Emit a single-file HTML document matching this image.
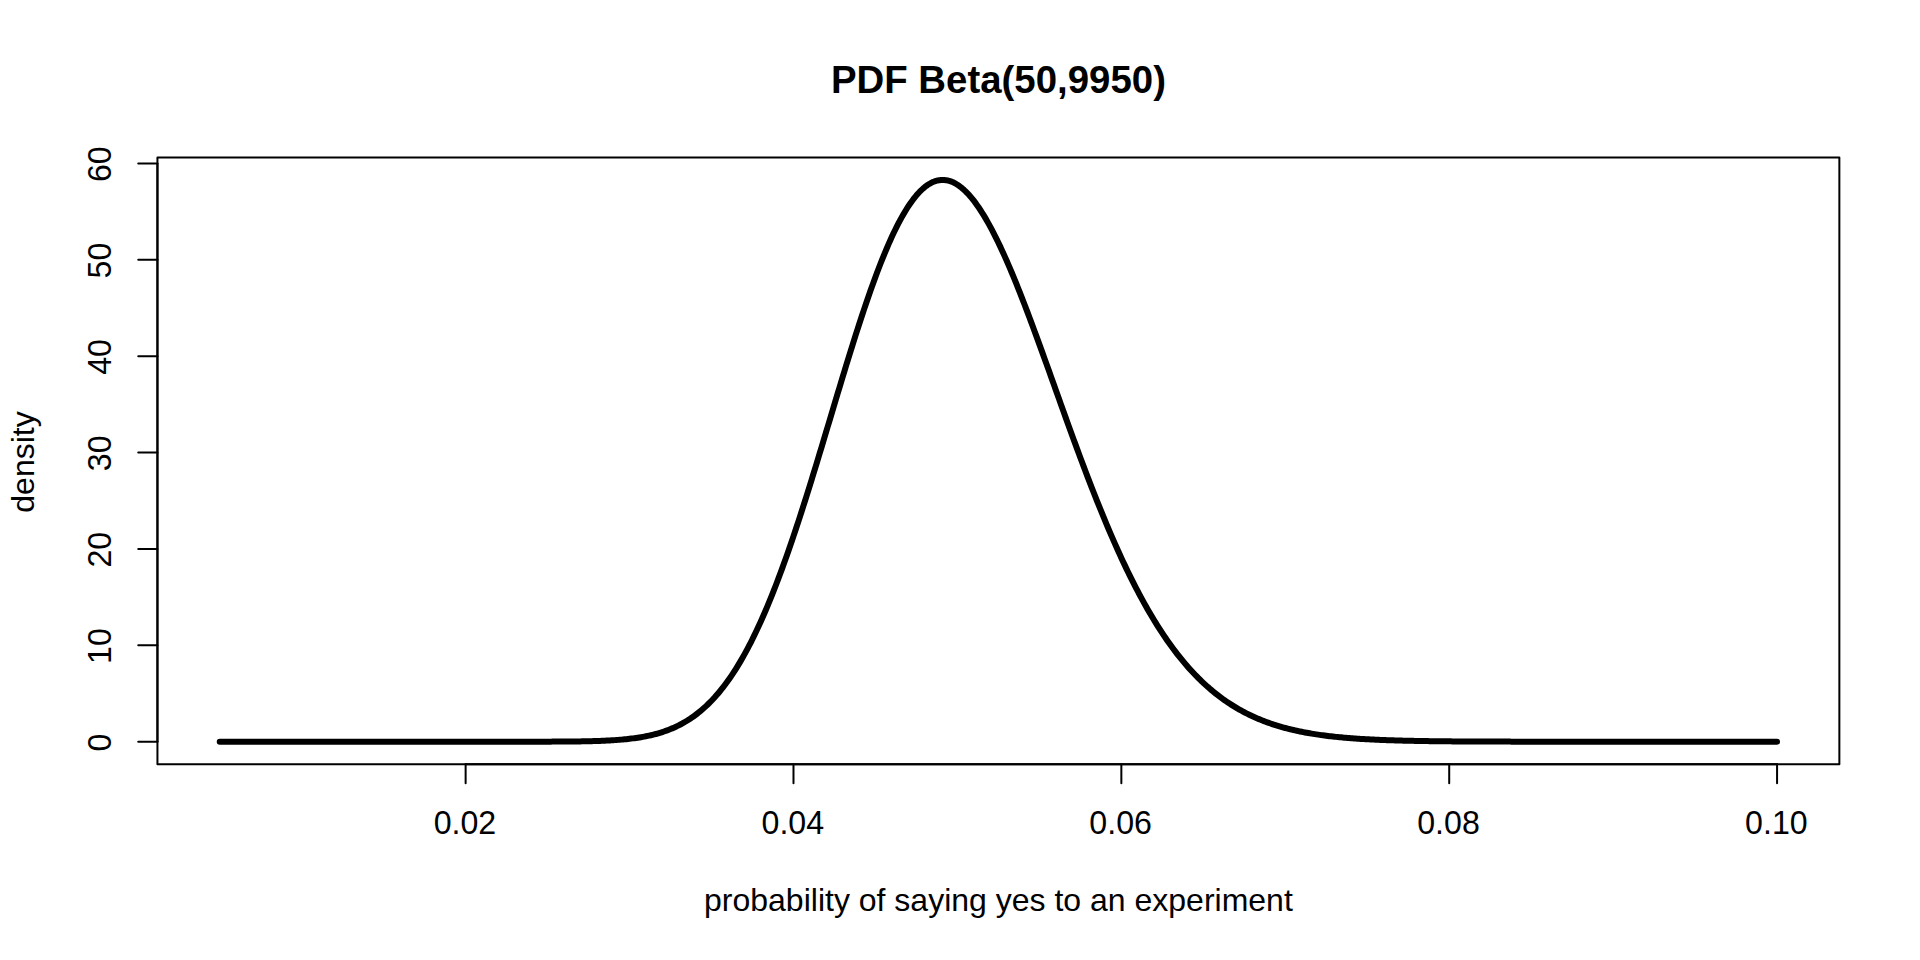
<!DOCTYPE html>
<html><head><meta charset="utf-8"><title>PDF Beta(50,9950)</title>
<style>
html,body{margin:0;padding:0;background:#fff;}
body{width:1920px;height:960px;overflow:hidden;}
svg{display:block;}
text{font-family:"Liberation Sans",Arial,Helvetica,sans-serif;fill:#000;}
</style></head><body>
<svg width="1920" height="960" viewBox="0 0 1920 960">
<rect x="0" y="0" width="1920" height="960" fill="#fff"/>
<polyline points="219.73,741.69 221.37,741.69 223.01,741.69 224.65,741.69 226.29,741.69 227.93,741.69 229.57,741.69 231.21,741.69 232.85,741.69 234.49,741.69 236.13,741.69 237.77,741.69 239.40,741.69 241.04,741.69 242.68,741.69 244.32,741.69 245.96,741.69 247.60,741.69 249.24,741.69 250.88,741.69 252.52,741.69 254.16,741.69 255.80,741.69 257.44,741.69 259.08,741.69 260.72,741.69 262.36,741.69 263.99,741.69 265.63,741.69 267.27,741.69 268.91,741.69 270.55,741.69 272.19,741.69 273.83,741.69 275.47,741.69 277.11,741.69 278.75,741.69 280.39,741.69 282.03,741.69 283.67,741.69 285.31,741.69 286.94,741.69 288.58,741.69 290.22,741.69 291.86,741.69 293.50,741.69 295.14,741.69 296.78,741.69 298.42,741.69 300.06,741.69 301.70,741.69 303.34,741.69 304.98,741.69 306.62,741.69 308.26,741.69 309.89,741.69 311.53,741.69 313.17,741.69 314.81,741.69 316.45,741.69 318.09,741.69 319.73,741.69 321.37,741.69 323.01,741.69 324.65,741.69 326.29,741.69 327.93,741.69 329.57,741.69 331.21,741.69 332.84,741.69 334.48,741.69 336.12,741.69 337.76,741.69 339.40,741.69 341.04,741.69 342.68,741.69 344.32,741.69 345.96,741.69 347.60,741.69 349.24,741.69 350.88,741.69 352.52,741.69 354.16,741.69 355.80,741.69 357.43,741.69 359.07,741.69 360.71,741.69 362.35,741.69 363.99,741.69 365.63,741.69 367.27,741.69 368.91,741.69 370.55,741.69 372.19,741.69 373.83,741.69 375.47,741.69 377.11,741.69 378.75,741.69 380.38,741.69 382.02,741.69 383.66,741.69 385.30,741.69 386.94,741.69 388.58,741.69 390.22,741.69 391.86,741.69 393.50,741.69 395.14,741.69 396.78,741.69 398.42,741.69 400.06,741.69 401.70,741.69 403.33,741.69 404.97,741.69 406.61,741.69 408.25,741.69 409.89,741.69 411.53,741.69 413.17,741.69 414.81,741.69 416.45,741.69 418.09,741.69 419.73,741.69 421.37,741.69 423.01,741.69 424.65,741.69 426.28,741.69 427.92,741.69 429.56,741.69 431.20,741.69 432.84,741.69 434.48,741.69 436.12,741.69 437.76,741.69 439.40,741.69 441.04,741.69 442.68,741.69 444.32,741.69 445.96,741.69 447.60,741.69 449.24,741.69 450.87,741.69 452.51,741.69 454.15,741.69 455.79,741.69 457.43,741.69 459.07,741.69 460.71,741.69 462.35,741.69 463.99,741.69 465.63,741.69 467.27,741.69 468.91,741.69 470.55,741.69 472.19,741.69 473.82,741.69 475.46,741.69 477.10,741.69 478.74,741.69 480.38,741.69 482.02,741.69 483.66,741.69 485.30,741.69 486.94,741.69 488.58,741.69 490.22,741.69 491.86,741.69 493.50,741.69 495.14,741.69 496.77,741.69 498.41,741.69 500.05,741.69 501.69,741.69 503.33,741.69 504.97,741.69 506.61,741.69 508.25,741.69 509.89,741.68 511.53,741.68 513.17,741.68 514.81,741.68 516.45,741.68 518.09,741.68 519.72,741.68 521.36,741.68 523.00,741.68 524.64,741.68 526.28,741.68 527.92,741.67 529.56,741.67 531.20,741.67 532.84,741.67 534.48,741.67 536.12,741.66 537.76,741.66 539.40,741.66 541.04,741.66 542.68,741.65 544.31,741.65 545.95,741.64 547.59,741.64 549.23,741.63 550.87,741.63 552.51,741.62 554.15,741.61 555.79,741.61 557.43,741.60 559.07,741.59 560.71,741.58 562.35,741.57 563.99,741.56 565.63,741.55 567.26,741.53 568.90,741.52 570.54,741.50 572.18,741.49 573.82,741.47 575.46,741.45 577.10,741.43 578.74,741.40 580.38,741.38 582.02,741.35 583.66,741.32 585.30,741.29 586.94,741.26 588.58,741.22 590.21,741.18 591.85,741.14 593.49,741.09 595.13,741.04 596.77,740.99 598.41,740.94 600.05,740.88 601.69,740.81 603.33,740.75 604.97,740.67 606.61,740.59 608.25,740.51 609.89,740.42 611.53,740.33 613.16,740.23 614.80,740.12 616.44,740.00 618.08,739.88 619.72,739.75 621.36,739.62 623.00,739.47 624.64,739.31 626.28,739.15 627.92,738.98 629.56,738.79 631.20,738.60 632.84,738.39 634.48,738.17 636.12,737.94 637.75,737.70 639.39,737.44 641.03,737.17 642.67,736.88 644.31,736.58 645.95,736.26 647.59,735.93 649.23,735.57 650.87,735.20 652.51,734.81 654.15,734.41 655.79,733.98 657.43,733.52 659.07,733.05 660.70,732.56 662.34,732.04 663.98,731.49 665.62,730.92 667.26,730.33 668.90,729.70 670.54,729.05 672.18,728.37 673.82,727.66 675.46,726.92 677.10,726.15 678.74,725.34 680.38,724.50 682.02,723.62 683.65,722.71 685.29,721.76 686.93,720.78 688.57,719.75 690.21,718.69 691.85,717.58 693.49,716.43 695.13,715.24 696.77,714.01 698.41,712.73 700.05,711.40 701.69,710.03 703.33,708.60 704.97,707.13 706.60,705.61 708.24,704.03 709.88,702.41 711.52,700.73 713.16,699.00 714.80,697.21 716.44,695.36 718.08,693.46 719.72,691.50 721.36,689.48 723.00,687.40 724.64,685.26 726.28,683.06 727.92,680.80 729.56,678.48 731.19,676.09 732.83,673.64 734.47,671.12 736.11,668.54 737.75,665.89 739.39,663.17 741.03,660.39 742.67,657.54 744.31,654.63 745.95,651.64 747.59,648.59 749.23,645.47 750.87,642.28 752.51,639.02 754.14,635.69 755.78,632.30 757.42,628.83 759.06,625.30 760.70,621.70 762.34,618.03 763.98,614.29 765.62,610.49 767.26,606.62 768.90,602.68 770.54,598.67 772.18,594.60 773.82,590.47 775.46,586.27 777.09,582.00 778.73,577.68 780.37,573.29 782.01,568.85 783.65,564.34 785.29,559.78 786.93,555.16 788.57,550.48 790.21,545.75 791.85,540.96 793.49,536.13 795.13,531.24 796.77,526.31 798.41,521.33 800.04,516.30 801.68,511.24 803.32,506.13 804.96,500.98 806.60,495.79 808.24,490.57 809.88,485.32 811.52,480.03 813.16,474.72 814.80,469.38 816.44,464.02 818.08,458.63 819.72,453.22 821.36,447.80 823.00,442.37 824.63,436.92 826.27,431.46 827.91,425.99 829.55,420.52 831.19,415.05 832.83,409.58 834.47,404.12 836.11,398.66 837.75,393.21 839.39,387.77 841.03,382.35 842.67,376.95 844.31,371.56 845.95,366.20 847.58,360.87 849.22,355.57 850.86,350.29 852.50,345.06 854.14,339.86 855.78,334.70 857.42,329.58 859.06,324.51 860.70,319.49 862.34,314.52 863.98,309.60 865.62,304.75 867.26,299.95 868.90,295.21 870.53,290.54 872.17,285.94 873.81,281.40 875.45,276.94 877.09,272.56 878.73,268.25 880.37,264.02 882.01,259.88 883.65,255.82 885.29,251.85 886.93,247.96 888.57,244.17 890.21,240.47 891.85,236.86 893.48,233.35 895.12,229.94 896.76,226.64 898.40,223.43 900.04,220.33 901.68,217.33 903.32,214.44 904.96,211.66 906.60,208.99 908.24,206.44 909.88,203.99 911.52,201.66 913.16,199.44 914.80,197.34 916.44,195.35 918.07,193.49 919.71,191.74 921.35,190.11 922.99,188.60 924.63,187.21 926.27,185.94 927.91,184.79 929.55,183.76 931.19,182.86 932.83,182.07 934.47,181.41 936.11,180.87 937.75,180.45 939.39,180.15 941.02,179.97 942.66,179.91 944.30,179.97 945.94,180.15 947.58,180.46 949.22,180.87 950.86,181.41 952.50,182.06 954.14,182.83 955.78,183.72 957.42,184.72 959.06,185.83 960.70,187.05 962.34,188.39 963.97,189.83 965.61,191.38 967.25,193.04 968.89,194.81 970.53,196.67 972.17,198.64 973.81,200.72 975.45,202.89 977.09,205.16 978.73,207.52 980.37,209.98 982.01,212.53 983.65,215.17 985.29,217.90 986.92,220.72 988.56,223.62 990.20,226.61 991.84,229.67 993.48,232.82 995.12,236.04 996.76,239.34 998.40,242.71 1000.04,246.15 1001.68,249.66 1003.32,253.23 1004.96,256.87 1006.60,260.57 1008.24,264.34 1009.88,268.16 1011.51,272.03 1013.15,275.96 1014.79,279.94 1016.43,283.97 1018.07,288.05 1019.71,292.17 1021.35,296.34 1022.99,300.54 1024.63,304.78 1026.27,309.06 1027.91,313.38 1029.55,317.72 1031.19,322.10 1032.83,326.50 1034.46,330.93 1036.10,335.38 1037.74,339.86 1039.38,344.35 1041.02,348.86 1042.66,353.39 1044.30,357.93 1045.94,362.48 1047.58,367.04 1049.22,371.61 1050.86,376.19 1052.50,380.77 1054.14,385.35 1055.78,389.94 1057.41,394.52 1059.05,399.10 1060.69,403.67 1062.33,408.24 1063.97,412.81 1065.61,417.36 1067.25,421.90 1068.89,426.43 1070.53,430.95 1072.17,435.45 1073.81,439.93 1075.45,444.40 1077.09,448.85 1078.73,453.27 1080.36,457.68 1082.00,462.06 1083.64,466.42 1085.28,470.75 1086.92,475.06 1088.56,479.34 1090.20,483.59 1091.84,487.81 1093.48,492.01 1095.12,496.17 1096.76,500.29 1098.40,504.39 1100.04,508.45 1101.68,512.48 1103.32,516.47 1104.95,520.43 1106.59,524.35 1108.23,528.23 1109.87,532.08 1111.51,535.88 1113.15,539.65 1114.79,543.38 1116.43,547.07 1118.07,550.72 1119.71,554.32 1121.35,557.89 1122.99,561.41 1124.63,564.90 1126.27,568.34 1127.90,571.74 1129.54,575.09 1131.18,578.41 1132.82,581.68 1134.46,584.91 1136.10,588.09 1137.74,591.23 1139.38,594.33 1141.02,597.39 1142.66,600.40 1144.30,603.37 1145.94,606.29 1147.58,609.17 1149.22,612.01 1150.85,614.81 1152.49,617.56 1154.13,620.27 1155.77,622.94 1157.41,625.56 1159.05,628.14 1160.69,630.68 1162.33,633.18 1163.97,635.64 1165.61,638.05 1167.25,640.42 1168.89,642.76 1170.53,645.05 1172.17,647.30 1173.80,649.51 1175.44,651.68 1177.08,653.81 1178.72,655.91 1180.36,657.96 1182.00,659.98 1183.64,661.95 1185.28,663.89 1186.92,665.80 1188.56,667.66 1190.20,669.49 1191.84,671.28 1193.48,673.04 1195.12,674.76 1196.76,676.45 1198.39,678.10 1200.03,679.72 1201.67,681.31 1203.31,682.86 1204.95,684.38 1206.59,685.87 1208.23,687.33 1209.87,688.75 1211.51,690.14 1213.15,691.51 1214.79,692.84 1216.43,694.14 1218.07,695.42 1219.71,696.67 1221.34,697.88 1222.98,699.07 1224.62,700.24 1226.26,701.37 1227.90,702.48 1229.54,703.57 1231.18,704.63 1232.82,705.66 1234.46,706.67 1236.10,707.65 1237.74,708.61 1239.38,709.55 1241.02,710.47 1242.66,711.36 1244.29,712.23 1245.93,713.08 1247.57,713.91 1249.21,714.71 1250.85,715.50 1252.49,716.27 1254.13,717.01 1255.77,717.74 1257.41,718.45 1259.05,719.14 1260.69,719.81 1262.33,720.47 1263.97,721.11 1265.61,721.73 1267.24,722.33 1268.88,722.92 1270.52,723.49 1272.16,724.05 1273.80,724.59 1275.44,725.12 1277.08,725.63 1278.72,726.13 1280.36,726.61 1282.00,727.09 1283.64,727.54 1285.28,727.99 1286.92,728.42 1288.56,728.84 1290.20,729.25 1291.83,729.65 1293.47,730.03 1295.11,730.41 1296.75,730.77 1298.39,731.12 1300.03,731.47 1301.67,731.80 1303.31,732.12 1304.95,732.44 1306.59,732.74 1308.23,733.03 1309.87,733.32 1311.51,733.60 1313.15,733.87 1314.78,734.13 1316.42,734.38 1318.06,734.63 1319.70,734.86 1321.34,735.10 1322.98,735.32 1324.62,735.54 1326.26,735.74 1327.90,735.95 1329.54,736.15 1331.18,736.34 1332.82,736.52 1334.46,736.70 1336.10,736.87 1337.73,737.04 1339.37,737.20 1341.01,737.36 1342.65,737.51 1344.29,737.66 1345.93,737.80 1347.57,737.94 1349.21,738.07 1350.85,738.20 1352.49,738.32 1354.13,738.44 1355.77,738.56 1357.41,738.67 1359.05,738.78 1360.68,738.89 1362.32,738.99 1363.96,739.09 1365.60,739.18 1367.24,739.27 1368.88,739.36 1370.52,739.45 1372.16,739.53 1373.80,739.61 1375.44,739.69 1377.08,739.76 1378.72,739.83 1380.36,739.90 1382.00,739.97 1383.64,740.03 1385.27,740.09 1386.91,740.15 1388.55,740.21 1390.19,740.27 1391.83,740.32 1393.47,740.37 1395.11,740.42 1396.75,740.47 1398.39,740.52 1400.03,740.56 1401.67,740.61 1403.31,740.65 1404.95,740.69 1406.59,740.73 1408.22,740.77 1409.86,740.80 1411.50,740.84 1413.14,740.87 1414.78,740.90 1416.42,740.93 1418.06,740.96 1419.70,740.99 1421.34,741.02 1422.98,741.04 1424.62,741.07 1426.26,741.10 1427.90,741.12 1429.54,741.14 1431.17,741.16 1432.81,741.18 1434.45,741.20 1436.09,741.22 1437.73,741.24 1439.37,741.26 1441.01,741.28 1442.65,741.30 1444.29,741.31 1445.93,741.33 1447.57,741.34 1449.21,741.36 1450.85,741.37 1452.49,741.38 1454.12,741.40 1455.76,741.41 1457.40,741.42 1459.04,741.43 1460.68,741.44 1462.32,741.45 1463.96,741.46 1465.60,741.47 1467.24,741.48 1468.88,741.49 1470.52,741.50 1472.16,741.51 1473.80,741.51 1475.44,741.52 1477.08,741.53 1478.71,741.53 1480.35,741.54 1481.99,741.55 1483.63,741.55 1485.27,741.56 1486.91,741.56 1488.55,741.57 1490.19,741.58 1491.83,741.58 1493.47,741.58 1495.11,741.59 1496.75,741.59 1498.39,741.60 1500.03,741.60 1501.66,741.61 1503.30,741.61 1504.94,741.61 1506.58,741.62 1508.22,741.62 1509.86,741.62 1511.50,741.63 1513.14,741.63 1514.78,741.63 1516.42,741.63 1518.06,741.64 1519.70,741.64 1521.34,741.64 1522.98,741.64 1524.61,741.64 1526.25,741.65 1527.89,741.65 1529.53,741.65 1531.17,741.65 1532.81,741.65 1534.45,741.66 1536.09,741.66 1537.73,741.66 1539.37,741.66 1541.01,741.66 1542.65,741.66 1544.29,741.66 1545.93,741.66 1547.56,741.67 1549.20,741.67 1550.84,741.67 1552.48,741.67 1554.12,741.67 1555.76,741.67 1557.40,741.67 1559.04,741.67 1560.68,741.67 1562.32,741.67 1563.96,741.67 1565.60,741.68 1567.24,741.68 1568.88,741.68 1570.52,741.68 1572.15,741.68 1573.79,741.68 1575.43,741.68 1577.07,741.68 1578.71,741.68 1580.35,741.68 1581.99,741.68 1583.63,741.68 1585.27,741.68 1586.91,741.68 1588.55,741.68 1590.19,741.68 1591.83,741.68 1593.47,741.68 1595.10,741.68 1596.74,741.68 1598.38,741.68 1600.02,741.68 1601.66,741.68 1603.30,741.68 1604.94,741.68 1606.58,741.68 1608.22,741.69 1609.86,741.69 1611.50,741.69 1613.14,741.69 1614.78,741.69 1616.42,741.69 1618.05,741.69 1619.69,741.69 1621.33,741.69 1622.97,741.69 1624.61,741.69 1626.25,741.69 1627.89,741.69 1629.53,741.69 1631.17,741.69 1632.81,741.69 1634.45,741.69 1636.09,741.69 1637.73,741.69 1639.37,741.69 1641.00,741.69 1642.64,741.69 1644.28,741.69 1645.92,741.69 1647.56,741.69 1649.20,741.69 1650.84,741.69 1652.48,741.69 1654.12,741.69 1655.76,741.69 1657.40,741.69 1659.04,741.69 1660.68,741.69 1662.32,741.69 1663.96,741.69 1665.59,741.69 1667.23,741.69 1668.87,741.69 1670.51,741.69 1672.15,741.69 1673.79,741.69 1675.43,741.69 1677.07,741.69 1678.71,741.69 1680.35,741.69 1681.99,741.69 1683.63,741.69 1685.27,741.69 1686.91,741.69 1688.54,741.69 1690.18,741.69 1691.82,741.69 1693.46,741.69 1695.10,741.69 1696.74,741.69 1698.38,741.69 1700.02,741.69 1701.66,741.69 1703.30,741.69 1704.94,741.69 1706.58,741.69 1708.22,741.69 1709.86,741.69 1711.49,741.69 1713.13,741.69 1714.77,741.69 1716.41,741.69 1718.05,741.69 1719.69,741.69 1721.33,741.69 1722.97,741.69 1724.61,741.69 1726.25,741.69 1727.89,741.69 1729.53,741.69 1731.17,741.69 1732.81,741.69 1734.44,741.69 1736.08,741.69 1737.72,741.69 1739.36,741.69 1741.00,741.69 1742.64,741.69 1744.28,741.69 1745.92,741.69 1747.56,741.69 1749.20,741.69 1750.84,741.69 1752.48,741.69 1754.12,741.69 1755.76,741.69 1757.40,741.69 1759.03,741.69 1760.67,741.69 1762.31,741.69 1763.95,741.69 1765.59,741.69 1767.23,741.69 1768.87,741.69 1770.51,741.69 1772.15,741.69 1773.79,741.69 1775.43,741.69 1777.07,741.69" fill="none" stroke="#000" stroke-width="6" stroke-linecap="round" stroke-linejoin="round"/>
<g stroke="#000" stroke-width="2" fill="none" stroke-linecap="round" stroke-linejoin="round">
<rect x="157.44" y="157.44" width="1681.92" height="606.72"/>

<path d="M465.63,764.16H1777.07"/>
<path d="M465.63,764.16v19.20"/>
<path d="M793.49,764.16v19.20"/>
<path d="M1121.35,764.16v19.20"/>
<path d="M1449.21,764.16v19.20"/>
<path d="M1777.07,764.16v19.20"/>
<path d="M157.44,741.69V163.40"/>
<path d="M157.44,741.69h-19.20"/>
<path d="M157.44,645.31h-19.20"/>
<path d="M157.44,548.93h-19.20"/>
<path d="M157.44,452.54h-19.20"/>
<path d="M157.44,356.16h-19.20"/>
<path d="M157.44,259.78h-19.20"/>
<path d="M157.44,163.40h-19.20"/>
</g>
<text transform="translate(464.93,834.46) scale(1.005,1.065)" font-size="32" text-anchor="middle">0.02</text>
<text transform="translate(792.79,834.46) scale(1.005,1.065)" font-size="32" text-anchor="middle">0.04</text>
<text transform="translate(1120.65,834.46) scale(1.005,1.065)" font-size="32" text-anchor="middle">0.06</text>
<text transform="translate(1448.51,834.46) scale(1.005,1.065)" font-size="32" text-anchor="middle">0.08</text>
<text transform="translate(1776.37,834.46) scale(1.005,1.065)" font-size="32" text-anchor="middle">0.10</text>
<text transform="translate(111.14,742.49) rotate(-90) scale(1.005,1.065)" font-size="32" text-anchor="middle">0</text>
<text transform="translate(111.14,646.11) rotate(-90) scale(1.005,1.065)" font-size="32" text-anchor="middle">10</text>
<text transform="translate(111.14,549.73) rotate(-90) scale(1.005,1.065)" font-size="32" text-anchor="middle">20</text>
<text transform="translate(111.14,453.34) rotate(-90) scale(1.005,1.065)" font-size="32" text-anchor="middle">30</text>
<text transform="translate(111.14,356.96) rotate(-90) scale(1.005,1.065)" font-size="32" text-anchor="middle">40</text>
<text transform="translate(111.14,260.58) rotate(-90) scale(1.005,1.065)" font-size="32" text-anchor="middle">50</text>
<text transform="translate(111.14,164.20) rotate(-90) scale(1.005,1.065)" font-size="32" text-anchor="middle">60</text>
<text x="998.40" y="911.16" font-size="32" text-anchor="middle">probability of saying yes to an experiment</text>
<text transform="translate(34.34,462.00) rotate(-90)" font-size="32" text-anchor="middle">density</text>
<text transform="translate(998.40,92.75) scale(1,1.025)" font-size="38.4" font-weight="bold" text-anchor="middle">PDF Beta(50,9950)</text>
</svg></body></html>
